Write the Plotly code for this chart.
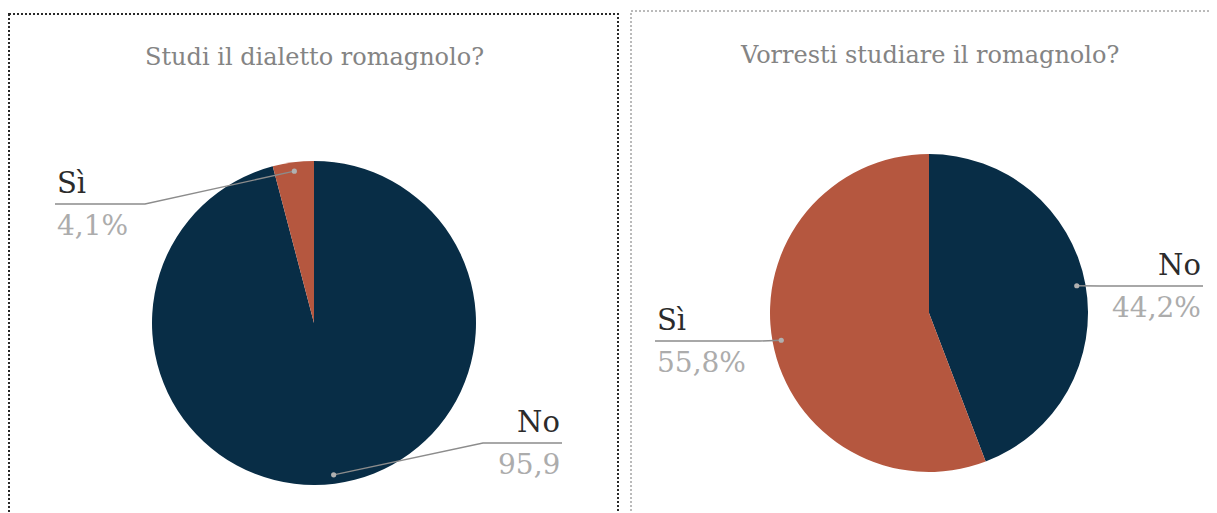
import math
import plotly.graph_objects as go

# ---------------- data ----------------
titles = ["Studi il dialetto romagnolo?", "Vorresti studiare il romagnolo?"]
categories = ["No", "Sì"]
values_studi = [95.9, 4.1]
values_vorresti = [44.2, 55.8]
value_labels_studi = ["95,9", "4,1%"]
value_labels_vorresti = ["44,2%", "55,8%"]

# ---------------- style / layout ----------------
W, H = 1217, 513
OFF = 8  # page body margin offset
NAVY = "#082d46"
RED = "#b5573f"
colors = [NAVY, RED]
SERIF = "DejaVu Serif, Liberation Serif, serif"

def px(x):
    return (x - OFF) / W

def py(y):
    return 1 - (y - OFF) / H

# pie geometry in pixels (center x, center y, radius)
pies = [
    dict(cx=314, cy=323, r=162, title_y=57),
    dict(cx=929, cy=313, r=159, title_y=55),
]
# label placement per slice: (line end x, line y, elbow x, side)
label_cfg = [
    [dict(end=562, ly=443, elbow=483, side="right"),
     dict(end=55, ly=204, elbow=145, side="left")],
    [dict(end=1203, ly=286, elbow=1100, side="right"),
     dict(end=655, ly=341, elbow=760, side="left")],
]

datasets = [
    (values_studi, value_labels_studi),
    (values_vorresti, value_labels_vorresti),
]

fig = go.Figure()
shapes = []
annotations = []

# panel borders
shapes.append(dict(type="rect", xref="paper", yref="paper",
                   x0=px(9), x1=px(618), y0=py(14), y1=py(560),
                   line=dict(color="#2a2a2a", width=2, dash="2px,2px")))
shapes.append(dict(type="rect", xref="paper", yref="paper",
                   x0=px(631), x1=px(1260), y0=py(11), y1=py(560),
                   line=dict(color="#777777", width=1, dash="2px,2px")))

for i, (vals, vlabels) in enumerate(datasets):
    g = pies[i]
    fig.add_trace(go.Pie(
        labels=categories, values=vals, sort=False, direction="clockwise",
        rotation=0, textinfo="none", hoverinfo="skip", showlegend=False,
        marker=dict(colors=colors, line=dict(width=0)),
        domain=dict(x=[px(g["cx"] - g["r"]), px(g["cx"] + g["r"])],
                    y=[py(g["cy"] + g["r"]), py(g["cy"] - g["r"])]),
    ))
    annotations.append(dict(
        text=titles[i], xref="paper", yref="paper", x=px(g["cx"]), y=py(g["title_y"]),
        xanchor="center", yanchor="middle", showarrow=False,
        font=dict(family=SERIF, size=24, color="#848484")))

    total = sum(vals)
    cum = 0.0
    for j, v in enumerate(vals):
        theta = 2 * math.pi * (cum + v / 2) / total
        cum += v
        rr = 0.945 * g["r"]
        dx = g["cx"] + rr * math.sin(theta)
        dy = g["cy"] - rr * math.cos(theta)
        c = label_cfg[i][j]
        path = f"M {px(dx)},{py(dy)} L {px(c['elbow'])},{py(c['ly'])} L {px(c['end'])},{py(c['ly'])}"
        shapes.append(dict(type="path", xref="paper", yref="paper", path=path,
                           line=dict(color="#8c8c8c", width=1.4)))
        rd = 2.6
        shapes.append(dict(type="circle", xref="paper", yref="paper",
                           x0=px(dx - rd), x1=px(dx + rd), y0=py(dy + rd), y1=py(dy - rd),
                           fillcolor="#b0b0b0", line=dict(width=0)))
        xa = "left" if c["side"] == "left" else "right"
        annotations.append(dict(
            text=categories[j], xref="paper", yref="paper", x=px(c["end"]), y=py(c["ly"] - 2),
            xanchor=xa, yanchor="bottom", showarrow=False,
            font=dict(family=SERIF, size=29, color="#2b2b2b")))
        annotations.append(dict(
            text=vlabels[j], xref="paper", yref="paper", x=px(c["end"]), y=py(c["ly"] + 3),
            xanchor=xa, yanchor="top", showarrow=False,
            font=dict(family=SERIF, size=28, color="#acacac")))

fig.update_layout(
    width=W, height=H, margin=dict(l=0, r=0, t=0, b=0),
    paper_bgcolor="white", plot_bgcolor="white",
    shapes=shapes, annotations=annotations,
)
fig.write_html("out.html")
